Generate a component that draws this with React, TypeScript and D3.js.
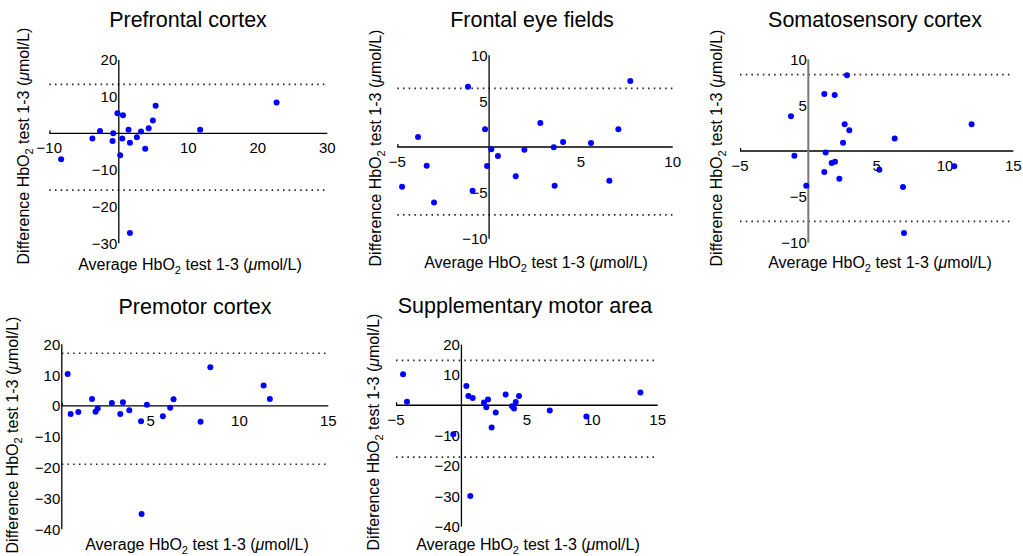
import React from "react";
import * as d3 from "d3";

// ---------- DATA ----------
const pfcX = [-8.3, -3.8, -2.7, -0.9, -0.8, -0.2, 0.2, 0.6, 0.5, 1.4, 1.6, 1.6, 2.6, 3.2, 3.8, 4.3, 4.9, 5.3, 11.7, 22.7];
const pfcY = [-7.1, -1.4, 0.6, -2.1, 0.0, 5.5, -6.0, 4.9, -1.4, 1.0, -2.6, -27.2, -1.1, 0.5, -4.2, 1.4, 3.5, 7.5, 1.0, 8.4];
const pfcLoA = [13.35, -15.5];

const fefX = [-4.74, -3.87, -3.4, -3.0, -1.15, -0.9, -0.22, -0.11, 0.12, 0.48, 1.45, 1.92, 2.79, 3.52, 3.57, 4.03, 5.55, 6.55, 7.04, 7.69];
const fefY = [-4.33, 1.09, -2.04, -6.04, 6.58, -4.76, 1.93, -2.07, -0.25, -0.98, -3.2, -0.29, 2.62, -0.04, -4.22, 0.55, 0.44, -3.67, 1.93, 7.2];
const fefLoA = [6.4, -7.4];

const ssX = [-1.27, -1.02, -0.15, 1.17, 1.17, 1.27, 1.71, 1.93, 1.95, 2.27, 2.54, 2.66, 2.83, 3.0, 5.2, 6.32, 6.93, 7.0, 10.68, 11.95];
const ssY = [3.78, -0.51, -3.78, 6.22, -2.29, -0.15, -1.31, 6.11, -1.16, -3.02, 0.91, 2.91, 8.25, 2.25, -2.04, 1.35, -3.93, -8.95, -1.67, 2.91];
const ssLoA = [8.33, -7.67];

const pmcX = [0.33, 0.5, 0.93, 1.7, 1.9, 2.02, 2.82, 3.29, 3.44, 3.8, 4.46, 4.49, 4.79, 5.69, 6.1, 6.29, 7.81, 8.36, 11.36, 11.71];
const pmcY = [10.4, -2.6, -1.95, 2.27, -1.84, -0.86, 0.97, -2.6, 1.19, -1.4, -4.97, -35.0, 0.43, -3.35, -0.54, 2.16, -5.08, 12.54, 6.6, 2.27];
const pmcLoA = [17.1, -18.9];

const smaX = [-4.46, -4.16, -0.62, 0.38, 0.53, 0.68, 0.86, 1.72, 1.9, 2.03, 2.31, 2.62, 3.38, 3.87, 4.02, 4.15, 4.4, 6.75, 9.55, 13.68];
const smaY = [10.2, 1.2, -9.56, 6.37, 3.08, -29.9, 2.42, 0.88, -0.66, 1.87, -7.36, -2.42, 3.52, -0.33, -1.1, 1.1, 3.08, -1.76, -3.74, 4.18];
const smaLoA = [14.8, -17.1];

const titles = ["Prefrontal cortex", "Frontal eye fields", "Somatosensory cortex", "Premotor cortex", "Supplementary motor area"];

const pfcXTicks = [-10, 10, 20, 30];
const pfcYTicks = [20, 10, -10, -20, -30];
const fefXTicks = [-5, 5, 10];
const fefYTicks = [10, 5, -5, -10];
const ssXTicks = [-5, 5, 10, 15];
const ssYTicks = [10, 5, -5, -10];
const pmcXTicks = [5, 10, 15];
const pmcYTicks = [20, 10, 0, -10, -20, -30, -40];
const smaXTicks = [-5, 5, 10, 15];
const smaYTicks = [20, 10, -10, -20, -30, -40];

// ---------- LAYOUT ----------
type Panel = {
  title: string;
  xs: number[];
  ys: number[];
  loa: number[];
  xDomain: [number, number];
  yDomain: [number, number];
  xRange: [number, number];
  yRange: [number, number];
  xTicks: number[];
  yTicks: number[];
  titlePos: [number, number];
  xLabelPos: [number, number];
  yLabelPos: [number, number];
  yAxisColor?: string;
  yAxisWidth?: number;
};

const panels: Panel[] = [
  {
    title: titles[0], xs: pfcX, ys: pfcY, loa: pfcLoA,
    xDomain: [-10, 30], yDomain: [-30, 20], xRange: [49.3, 327.3], yRange: [243.3, 60],
    xTicks: pfcXTicks, yTicks: pfcYTicks,
    titlePos: [188, 27], xLabelPos: [190, 270], yLabelPos: [29, 146],
  },
  {
    title: titles[1], xs: fefX, ys: fefY, loa: fefLoA,
    xDomain: [-5, 10], yDomain: [-10, 10], xRange: [397.3, 672.7], yRange: [238.7, 55.3],
    xTicks: fefXTicks, yTicks: fefYTicks,
    titlePos: [532, 27], xLabelPos: [536, 268], yLabelPos: [381, 148],
  },
  {
    title: titles[2], xs: ssX, ys: ssY, loa: ssLoA,
    xDomain: [-5, 15], yDomain: [-10, 10], xRange: [740, 1013.3], yRange: [242.7, 59.3],
    xTicks: ssXTicks, yTicks: ssYTicks,
    titlePos: [875, 27], xLabelPos: [880, 268], yLabelPos: [722, 148],
    yAxisColor: "#777", yAxisWidth: 2,
  },
  {
    title: titles[3], xs: pmcX, ys: pmcY, loa: pmcLoA,
    xDomain: [0, 15], yDomain: [-40, 20], xRange: [61.8, 328.3], yRange: [529.3, 344.3],
    xTicks: pmcXTicks, yTicks: pmcYTicks,
    titlePos: [195, 314], xLabelPos: [197, 550], yLabelPos: [18, 435],
  },
  {
    title: titles[4], xs: smaX, ys: smaY, loa: smaLoA,
    xDomain: [-5, 15], yDomain: [-40, 20], xRange: [396, 657.7], yRange: [526.6, 344.6],
    xTicks: smaXTicks, yTicks: smaYTicks,
    titlePos: [525, 313], xLabelPos: [528, 550], yLabelPos: [379, 432],
  },
];

const FONT = "'Liberation Sans', Arial, Helvetica, sans-serif";
const fmt = (v: number) => (v < 0 ? "\u2212" + Math.abs(v) : String(v));

function AxisLabel({ prefix, x, y, rotate }: { prefix: string; x: number; y: number; rotate?: boolean }) {
  return (
    <text
      x={rotate ? 0 : x}
      y={rotate ? 0 : y}
      transform={rotate ? `translate(${x},${y}) rotate(-90)` : undefined}
      textAnchor="middle"
      fontSize={16}
      fontFamily={FONT}
      fill="#000"
    >
      {prefix} HbO
      <tspan fontSize={11} dy={4}>2</tspan>
      <tspan dy={-4}> test 1-3 (</tspan>
      <tspan fontStyle="italic">μ</tspan>
      <tspan>mol/L)</tspan>
    </text>
  );
}

function PanelView({ p }: { p: Panel }) {
  const x = d3.scaleLinear().domain(p.xDomain).range(p.xRange);
  const y = d3.scaleLinear().domain(p.yDomain).range(p.yRange);
  const x0 = x(0);
  const y0 = y(0);
  return (
    <g>
      <text x={p.titlePos[0]} y={p.titlePos[1]} textAnchor="middle" fontSize={21.5} fontFamily={FONT} fill="#000">
        {p.title}
      </text>
      {p.loa.map((v, i) => (
        <line key={"l" + i} x1={x(p.xDomain[0])} x2={x(p.xDomain[1])} y1={y(v)} y2={y(v)}
          stroke="#222" strokeWidth={1.7} strokeDasharray="1.5,4.2" />
      ))}
      <line x1={x(p.xDomain[0])} x2={x(p.xDomain[1])} y1={y0} y2={y0} stroke="#000" strokeWidth={1.3} />
      <line x1={x(p.xDomain[0]) + 0.6} x2={x(p.xDomain[0]) + 0.6} y1={y0} y2={y0 - 3} stroke="#000" strokeWidth={1.2} />
      <line x1={x0} x2={x0} y1={y(p.yDomain[0])} y2={y(p.yDomain[1])}
        stroke={p.yAxisColor ?? "#000"} strokeWidth={p.yAxisWidth ?? 1.3} />
      {p.xTicks.map((t) => (
        <text key={"xt" + t} x={x(t)} y={y0 + 20} textAnchor="middle" fontSize={15} fontFamily={FONT} fill="#000">
          {fmt(t)}
        </text>
      ))}
      {p.yTicks.map((t) => (
        <text key={"yt" + t} x={x0 - 1.5} y={y(t)} dy="0.36em" textAnchor="end" fontSize={15} fontFamily={FONT} fill="#000">
          {fmt(t)}
        </text>
      ))}
      {p.xs.map((v, i) => (
        <circle key={"c" + i} cx={x(v)} cy={y(p.ys[i])} r={3} fill="#0000ff" />
      ))}
      <AxisLabel prefix="Average" x={p.xLabelPos[0]} y={p.xLabelPos[1]} />
      <AxisLabel prefix="Difference" x={p.yLabelPos[0]} y={p.yLabelPos[1]} rotate />
    </g>
  );
}

export default function App() {
  return (
    <svg width={1023} height={556} style={{ position: "absolute", left: 0, top: 0, background: "#fff" }}>
      <rect width={1023} height={556} fill="#fff" />
      {panels.map((p, i) => (
        <PanelView key={i} p={p} />
      ))}
    </svg>
  );
}
